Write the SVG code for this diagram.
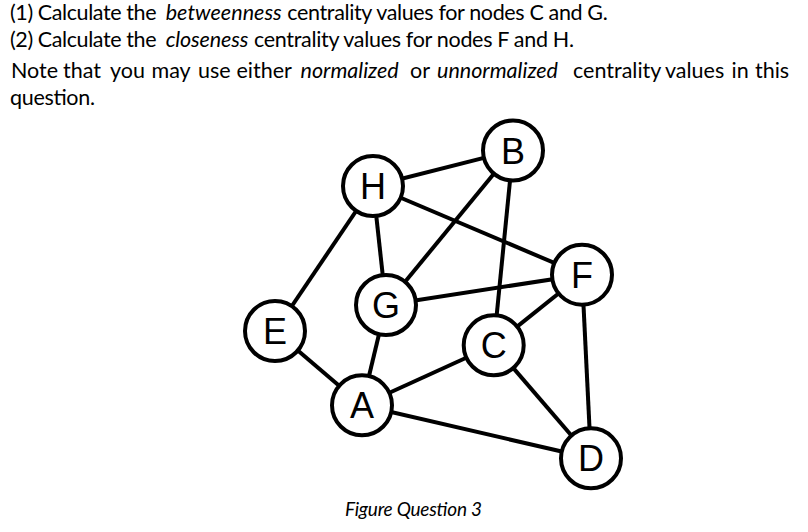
<svg xmlns="http://www.w3.org/2000/svg" width="808" height="532" viewBox="0 0 808 532">
<style>
.t{font-family:Lato,"Open Sans","Liberation Sans",sans-serif;font-size:21.5px;fill:#000}
.i{font-style:italic}
.edge{stroke:#000;stroke-width:4;fill:none}
.node circle{fill:#fff;stroke:#000;stroke-width:4}
.node text{font-family:"Liberation Sans",Arial,sans-serif;font-size:36px;fill:#000;text-anchor:middle}
.cap{font-family:Lato,"Open Sans","Liberation Sans",sans-serif;font-size:19px;font-style:italic;fill:#000}
</style>
<rect width="808" height="532" fill="#fff"/>
<g id="question">
<text class="t" x="10" y="19.5" textLength="146.5" lengthAdjust="spacing">(1) Calculate the</text>
<text class="t i" x="165.7" y="19.5" textLength="116" lengthAdjust="spacing">betweenness</text>
<text class="t" x="287.3" y="19.5" textLength="320.5" lengthAdjust="spacing">centrality values for nodes C and G.</text>
<text class="t" x="10" y="46.5" textLength="146.5" lengthAdjust="spacing">(2) Calculate the</text>
<text class="t i" x="165.7" y="46.5" textLength="82.6" lengthAdjust="spacing">closeness</text>
<text class="t" x="254" y="46.5" textLength="320" lengthAdjust="spacing">centrality values for nodes F and H.</text>
<text class="t" y="78"><tspan x="11">Note</tspan><tspan x="63">that</tspan><tspan x="110">you</tspan><tspan x="151.5">may</tspan><tspan x="198">use</tspan><tspan x="236.5">either</tspan><tspan x="300.5" class="i">normalized</tspan><tspan x="410">or</tspan><tspan x="437" class="i">unnormalized</tspan><tspan x="573">centrality</tspan><tspan x="665">values</tspan><tspan x="731.5">in</tspan><tspan x="755">this</tspan></text>
<text class="t" x="10" y="105" textLength="85" lengthAdjust="spacing">question.</text>
</g>
<g id="connectors">
<line class="edge" x1="373" y1="186" x2="513" y2="150.5"/>
<line class="edge" x1="373" y1="186" x2="582" y2="274.7"/>
<line class="edge" x1="373" y1="186" x2="386" y2="305"/>
<line class="edge" x1="373" y1="186" x2="275" y2="331"/>
<line class="edge" x1="513" y1="150.5" x2="386" y2="305"/>
<line class="edge" x1="513" y1="150.5" x2="493.7" y2="345.3"/>
<line class="edge" x1="386" y1="305" x2="582" y2="274.7"/>
<line class="edge" x1="582" y1="274.7" x2="493.7" y2="345.3"/>
<line class="edge" x1="582" y1="274.7" x2="591" y2="458.3"/>
<line class="edge" x1="275" y1="331" x2="362" y2="405.3"/>
<line class="edge" x1="386" y1="305" x2="362" y2="405.3"/>
<line class="edge" x1="362" y1="405.3" x2="493.7" y2="345.3"/>
<line class="edge" x1="362" y1="405.3" x2="591" y2="458.3"/>
<line class="edge" x1="493.7" y1="345.3" x2="591" y2="458.3"/>
</g>
<g id="node-B" class="node"><circle cx="513" cy="150.5" r="30"/><text x="513" y="163.5">B</text></g>
<g id="node-H" class="node"><circle cx="373" cy="186" r="30"/><text x="373" y="199">H</text></g>
<g id="node-F" class="node"><circle cx="582" cy="274.7" r="30"/><text x="582" y="287.7">F</text></g>
<g id="node-G" class="node"><circle cx="386" cy="305" r="30"/><text x="386" y="318">G</text></g>
<g id="node-E" class="node"><circle cx="275" cy="331" r="30"/><text x="275" y="344">E</text></g>
<g id="node-C" class="node"><circle cx="493.7" cy="345.3" r="30"/><text x="493.7" y="358.3">C</text></g>
<g id="node-A" class="node"><circle cx="362" cy="405.3" r="30"/><text x="362" y="418.3">A</text></g>
<g id="node-D" class="node"><circle cx="591" cy="458.3" r="30"/><text x="591" y="471.3">D</text></g>
<g id="caption"><text class="cap" x="345" y="516" textLength="137" lengthAdjust="spacing">Figure Question 3</text></g>
</svg>
